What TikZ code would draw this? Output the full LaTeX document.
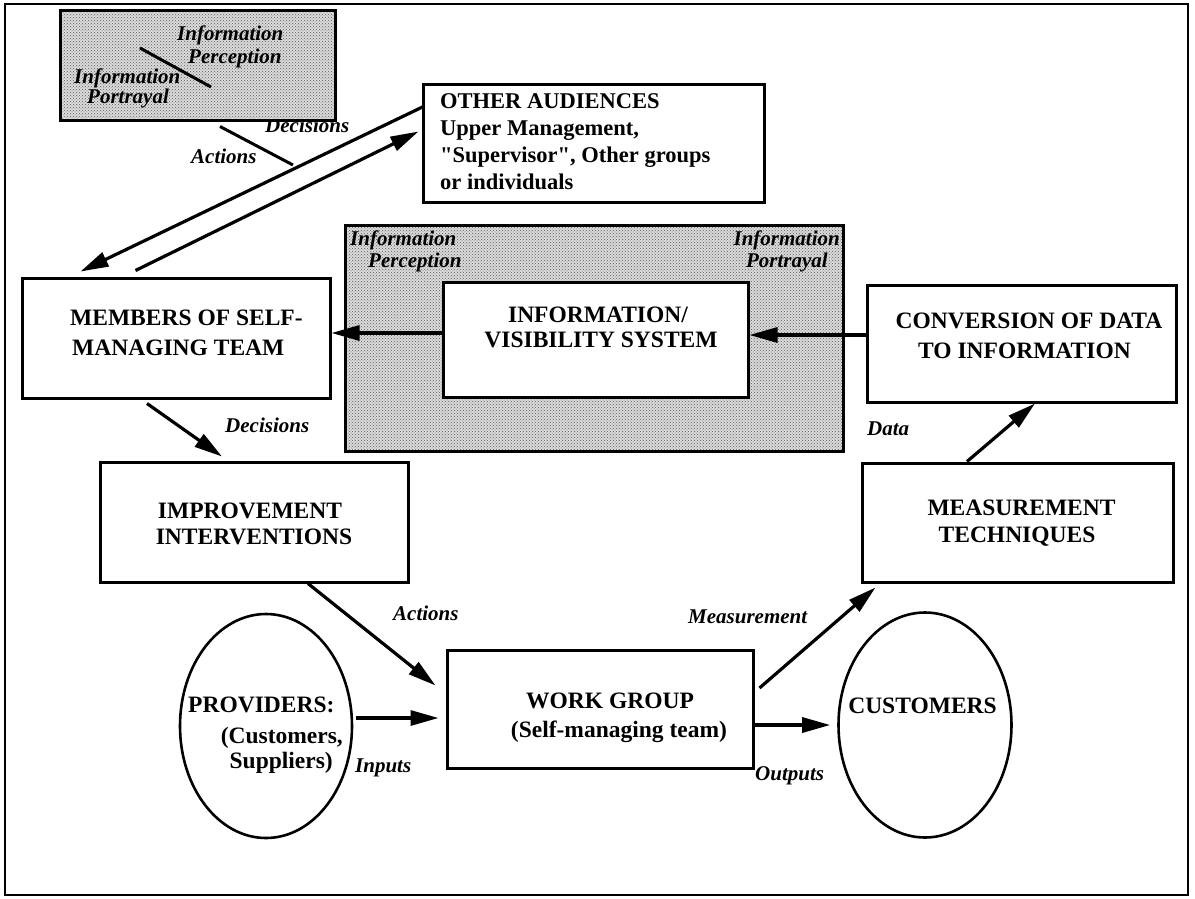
\documentclass[tikz,border=0pt]{standalone}
\usepackage{fontspec}
\setmainfont{Liberation Serif}
\usetikzlibrary{arrows.meta,patterns,shapes.geometric}

\begin{document}
\begin{tikzpicture}[x=1pt,y=-1pt,
  frame/.style={draw,line width=2.4pt},
  box/.style={draw,line width=3pt,fill=white,rectangle,inner sep=0pt},
  shadebox/.style={draw,line width=3pt,rectangle,inner sep=0pt,
    preaction={fill=black!14},pattern=crosshatch dots,pattern color=black!65},
  oval/.style={draw,line width=2.6pt,ellipse,inner sep=0pt,
    minimum width=172pt,minimum height=224pt},
  boxtxt/.style={font=\fontsize{23.5}{28}\selectfont\bfseries,inner sep=0pt},
  audtxt/.style={font=\fontsize{22.5}{27}\selectfont\bfseries,inner sep=0pt},
  lbl/.style={font=\fontsize{21}{24}\selectfont\bfseries\itshape,inner sep=0pt},
  arr/.style={line width=3.2pt,-{Triangle[length=28pt,width=15pt]}},
  link/.style={line width=3pt}
]
\useasboundingbox (0,0) rectangle (1195,898);
\fill[white] (0,0) rectangle (1195,898);

% outer frame
\node[frame,rectangle,inner sep=0pt,minimum width=1183pt,minimum height=891pt] (page) at (596.5,449.5) {};

% label partly hidden under the small legend box
\node[lbl,anchor=base west] (ldec0) at (265,132) {Decisions};

% small legend box with its diagonal
\node[shadebox,minimum width=275pt,minimum height=110pt] (legend) at (197.5,65) {};
\draw[link] (140,48) -- (211,87);
\node[lbl,anchor=base west] (lgi1) at (177,40) {Information};
\node[lbl,anchor=base west] (lgp1) at (188,63) {Perception};
\node[lbl,anchor=base west] (lgi2) at (74,83) {Information};
\node[lbl,anchor=base west] (lgp2) at (87,103) {Portrayal};
\coordinate (legendend) at (293,165);
\draw[link] ([xshift=22.5pt,yshift=-5pt]legend.south) -- (legendend);
\node[lbl,anchor=base west] (lact0) at (191,163) {Actions};

% other audiences
\node[box,minimum width=341pt,minimum height=118pt] (other) at (593.5,143) {};
\node[audtxt,anchor=base west] (oth1) at (440,108) {OTHER AUDIENCES};
\node[audtxt,anchor=base west] (oth2) at (440,135) {Upper Management,};
\node[audtxt,anchor=base west] (oth3) at (440,162) {\textquotedbl Supervisor\textquotedbl, Other groups};
\node[audtxt,anchor=base west] (oth4) at (440,189) {or individuals};

% shaded information area
\node[shadebox,minimum width=498pt,minimum height=226pt] (area) at (594,338) {};
\node[lbl,anchor=base west] (ari1) at (350,245) {Information};
\node[lbl,anchor=base west] (arp1) at (368,267) {Perception};
\node[lbl,anchor=base east] (ari2) at (840,245) {Information};
\node[lbl,anchor=base east] (arp2) at (828,267) {Portrayal};

% boxes
\node[box,minimum width=305pt,minimum height=115pt] (info) at (595.5,339.5) {};
\node[boxtxt,anchor=base] (inf1) at (598,322) {INFORMATION/};
\node[boxtxt,anchor=base] (inf2) at (601,347) {VISIBILITY SYSTEM};

\node[box,minimum width=308pt,minimum height=120pt] (mem) at (176,338) {};
\node[boxtxt,anchor=base west] (mem1) at (70,325) {MEMBERS OF SELF-};
\node[boxtxt,anchor=base west] (mem2) at (72,355) {MANAGING TEAM};

\node[box,minimum width=309pt,minimum height=117pt] (conv) at (1021.5,343.5) {};
\node[boxtxt,anchor=base] (conv1) at (1029,328) {CONVERSION OF DATA};
\node[boxtxt,anchor=base] (conv2) at (1024.5,358) {TO INFORMATION};

\node[box,minimum width=308pt,minimum height=120pt] (imp) at (254,522) {};
\node[boxtxt,anchor=base] (imp1) at (250,518) {IMPROVEMENT};
\node[boxtxt,anchor=base] (imp2) at (254,544) {INTERVENTIONS};

\node[box,minimum width=311pt,minimum height=119pt] (meas) at (1017.5,522.5) {};
\node[boxtxt,anchor=base] (meas1) at (1021.5,515) {MEASUREMENT};
\node[boxtxt,anchor=base] (meas2) at (1017,542) {TECHNIQUES};

\node[box,minimum width=306pt,minimum height=118pt] (work) at (600,709) {};
\node[boxtxt,anchor=base] (work1) at (610,708) {WORK GROUP};
\node[boxtxt,anchor=base] (work2) at (619,737) {(Self-managing team)};

\node[oval] (prov) at (266,726) {};
\node[boxtxt,anchor=base west] (prov1) at (188,712) {PROVIDERS:};
\node[boxtxt,anchor=base east] (prov2) at (343,743) {(Customers,};
\node[boxtxt,anchor=base east] (prov3) at (333,768) {Suppliers)};

\node[oval,minimum width=173pt,minimum height=225pt] (cust) at (925,725) {};
\node[boxtxt,anchor=base] (cust1) at (922.5,713) {CUSTOMERS};

% flow labels
\node[lbl,anchor=base west] (ldec) at (225,432) {Decisions};
\node[lbl,anchor=base west] (ldata) at (867,435) {Data};
\node[lbl,anchor=base west] (lact) at (393,620) {Actions};
\node[lbl,anchor=base west] (lmeas) at (688,623) {Measurement};
\node[lbl,anchor=base west] (lin) at (355,772) {Inputs};
\node[lbl,anchor=base west] (lout) at (755,780) {Outputs};

% connectors
\draw[arr] ([yshift=6.5pt]info.west) -- ([yshift=5pt]mem.east);
\draw[arr] ([yshift=8.5pt]conv.west) -- ([yshift=4.5pt]info.east);
\draw[arr] ([xshift=-50.5pt]meas.north) -- ([xshift=13.5pt]conv.south);
\draw[arr] ([xshift=5pt,yshift=21pt]work.east) -- ([xshift=15pt,yshift=-4pt]meas.south west);
\draw[arr] ([yshift=-16pt]work.east) -- ([xshift=-7pt]cust.west);
\draw[arr] ([xshift=3pt,yshift=8pt]prov.east) -- ([xshift=-7pt,yshift=-9pt]work.west);
\draw[arr] ([xshift=54pt]imp.south) -- ([xshift=-10pt,yshift=-37pt]work.north west);
\draw[arr] ([xshift=-29pt,yshift=-4pt]mem.south) -- ([xshift=-32pt,yshift=4pt]imp.north);
\draw[arr] ([xshift=2pt,yshift=-24pt]other.north west) -- ([xshift=60pt,yshift=5pt]mem.north west);
\draw[arr] ([xshift=115pt,yshift=6pt]mem.north west) -- ([xshift=-3pt,yshift=-49pt]other.north west);
\end{tikzpicture}
\end{document}
